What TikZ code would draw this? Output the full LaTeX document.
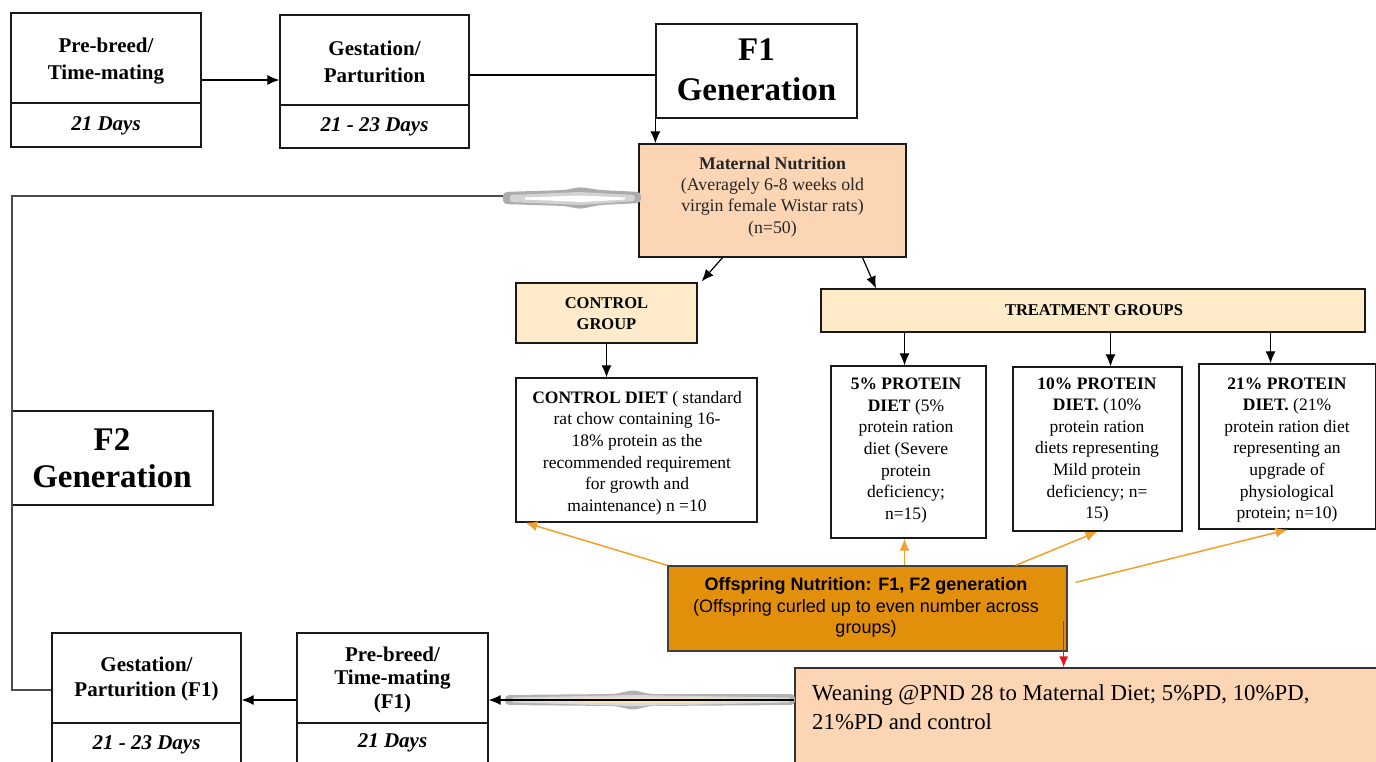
\documentclass[tikz,border=0pt]{standalone}
\usepackage{fontspec}
\setmainfont{Liberation Serif}
\setsansfont{Liberation Sans}
\usetikzlibrary{arrows.meta,calc}
\newcommand{\fsz}[2]{\fontsize{#1}{#2}\selectfont}
\definecolor{peach}{HTML}{FCD5B5}
\definecolor{beige}{HTML}{FDEBC9}
\definecolor{offor}{HTML}{E2900C}
\definecolor{oline}{HTML}{F2A02A}
\definecolor{redar}{HTML}{E8141B}
\definecolor{pale}{HTML}{F8E3BC}
\begin{document}
\begin{tikzpicture}[x=1pt,y=-1pt,
  box/.style={draw=black!90, line width=1.3pt, rectangle, inner sep=0pt},
  txt/.style={align=center, inner sep=0pt},
  flowtxt/.style={txt, font=\bfseries\fsz{21}{27}},
  daytxt/.style={txt, font=\bfseries\itshape\fsz{21}{25}},
  gentxt/.style={txt, font=\bfseries\fsz{33}{40}},
  bodytxt/.style={txt, font=\fsz{17.5}{21.6}},
  grptxt/.style={txt, font=\bfseries\fsz{16.5}{21}},
  arr/.style={-{Latex[length=12pt,width=10pt]}, line width=1.2pt},
  oarr/.style={-{Latex[length=12pt,width=10pt]}, line width=1.5pt, draw=oline, color=oline},
  divider/.style={line width=1.3pt, draw=black!90},
]
\useasboundingbox (0,0) rectangle (1376,761);
\clip (0,0) rectangle (1376,761);
\fill[white] (0,0) rectangle (1376,761);

% ---- top flow ----
\node[box, minimum width=190pt, minimum height=134pt] (pb1) at (106,80) {};
\draw[divider] (pb1.west |- 0,103) -- (pb1.east |- 0,103);
\node[flowtxt] (pb1t) at (106,61.5) {Pre-breed/\\Time-mating};
\node[daytxt] (pb1d) at (106,125.5) {21 Days};

\node[box, minimum width=189pt, minimum height=133pt] (gest) at (374.5,81.5) {};
\draw[divider] (gest.west |- 0,105) -- (gest.east |- 0,105);
\node[flowtxt] (gestt) at (374.5,61.5) {Gestation/\\Parturition};
\node[daytxt] (gestd) at (374.5,127) {21 - 23 Days};

\node[box, minimum width=201pt, minimum height=94pt] (f1) at (756.5,71) {};
\node[gentxt] (f1t) at (756.5,70) {F1\\Generation};

\node[box, fill=peach, minimum width=267pt, minimum height=113pt] (mat) at (772.5,200.5) {};
\node[txt, font=\fsz{17.8}{21.3}, text=black!85] (matt) at (772.5,197) {{\bfseries Maternal Nutrition}\\(Averagely 6-8 weeks old\\virgin female Wistar rats)\\(n=50)};

% ---- groups ----
\node[box, fill=beige, minimum width=181pt, minimum height=60pt] (cg) at (606.5,313) {};
\node[grptxt] (cgt) at (606.5,313.5) {CONTROL\\GROUP};
\node[box, fill=beige, minimum width=544pt, minimum height=43pt] (tg) at (1093,310.5) {};
\node[grptxt] (tgt) at (1094,310.5) {TREATMENT GROUPS};

\node[box, minimum width=241pt, minimum height=144pt] (cd) at (636.5,450) {};
\node[bodytxt] (cdt) at (637,453) {{\bfseries CONTROL DIET} ( standard\\rat chow containing 16-\\18\% protein as the\\recommended requirement\\for growth and\\maintenance) n =10};

\node[box, minimum width=155pt, minimum height=172pt] (p5) at (908.5,452) {};
\node[bodytxt] (p5t) at (906,450.5) {{\bfseries 5\% PROTEIN}\\{\bfseries DIET} (5\%\\protein ration\\diet (Severe\\protein\\deficiency;\\n=15)};

\node[box, minimum width=169pt, minimum height=164pt] (p10) at (1097.5,449) {};
\node[bodytxt] (p10t) at (1097,450) {{\bfseries 10\% PROTEIN}\\{\bfseries DIET.} (10\%\\protein ration\\diets representing\\Mild protein\\deficiency; n=\\15)};

\node[box, minimum width=177pt, minimum height=165pt] (p21) at (1287.5,446.5) {};
\node[bodytxt] (p21t) at (1287,450) {{\bfseries 21\% PROTEIN}\\{\bfseries DIET.} (21\%\\protein ration diet\\representing an\\upgrade of\\physiological\\protein; n=10)};

% ---- offspring / weaning ----
\node[box, fill=offor, draw=black!75, minimum width=399pt, minimum height=85pt] (off) at (867.5,608.5) {};
\node[txt, font=\sffamily\fsz{18}{21.5}] (offt) at (866,607.5) {{\bfseries Offspring Nutrition: F1, F2 generation}\\(Offspring curled up to even number across\\groups)};

\node[box, fill=peach, draw=black!80, minimum width=595pt, minimum height=112pt] (wean) at (1092.5,724) {};
\node[anchor=north west, align=left, inner sep=0pt, font=\fsz{22.8}{29}] (weant) at (812,684) {Weaning @PND 28 to Maternal Diet; 5\%PD, 10\%PD,\\21\%PD and control};

% ---- F2 ----
\node[box, minimum width=201pt, minimum height=94pt] (f2) at (112.5,458) {};
\node[gentxt, font=\bfseries\fsz{33}{37}] (f2t) at (112,458.5) {F2\\Generation};

% ---- bottom flow ----
\node[box, minimum width=189pt, minimum height=134pt] (gf1) at (146.5,700) {};
\draw[divider] (gf1.west |- 0,723) -- (gf1.east |- 0,723);
\node[txt, font=\bfseries\fsz{21}{25}] (gf1t) at (146.5,678.5) {Gestation/\\Parturition (F1)};
\node[daytxt] (gf1d) at (146.5,745) {21 - 23 Days};

\node[box, minimum width=191pt, minimum height=134pt] (pbf1) at (392.5,700) {};
\draw[divider] (pbf1.west |- 0,723) -- (pbf1.east |- 0,723);
\node[txt, font=\bfseries\fsz{21}{23.5}] (pbf1t) at (392.5,679.5) {Pre-breed/\\Time-mating\\(F1)};
\node[daytxt] (pbf1d) at (392.5,743) {21 Days};

% ---- connectors ----
\draw[arr] (pb1.east) -- (pb1.east -| gest.west);
\draw[line width=1.2pt] ([yshift=-4pt]f1.west -| gest.east) -- ([yshift=-4pt]f1.west);
\draw[arr] (f1.south west) -- (f1.south west |- mat.north);
\draw[arr] ([xshift=-50pt]mat.south) -- ([xshift=4pt,yshift=1pt]cg.north east);
\draw[arr] ([xshift=90pt]mat.south) -- ([xshift=-217pt]tg.north);
\draw[arr] (cg.south) -- (cg.south |- cd.north);
\draw[arr] ([xshift=-4pt]p5.north |- tg.south) -- ([xshift=-4pt]p5.north);
\draw[arr] ([xshift=13pt]p10.north |- tg.south) -- ([xshift=13pt]p10.north);
\draw[arr] ([xshift=-17pt]p21.north |- tg.south) -- ([xshift=-17pt]p21.north);

\draw[oarr] (off.north west) -- ([xshift=10pt]cd.south west);
\draw[oarr] ([xshift=-4pt]p5.south |- off.north) -- ([xshift=-4pt]p5.south);
\draw[oarr] ([xshift=148pt]off.north) -- (p10.south);
\draw[oarr] ([xshift=8pt,yshift=-17pt]off.north east) -- (p21.south);

\draw[-{Latex[length=11pt,width=9pt]}, draw=redar, color=redar, line width=1.3pt]
  ([xshift=-4pt,yshift=-56pt]off.north east) -- ([xshift=-4pt]off.north east |- wean.north);

% left loop
\coordinate (tl) at (12,196);
\coordinate (bl) at (12,690);
\draw[line width=1.6pt, black!70] (mat.west |- tl) -- (tl) -- (bl) -- (bl -| gf1.west);
\fill[gray!65, rounded corners=4pt] (503,192) -- (565,190) -- (580,187) -- (600,190) -- (641,192) -- (641,203) -- (600,205) -- (580,209) -- (565,206) -- (503,204) -- cycle;
\fill[gray!35, rounded corners=2pt] (510,195) -- (580,192) -- (635,195) -- (635,201) -- (580,205) -- (510,202) -- cycle;
\fill[white] (525,197.5) -- (582,195.5) -- (625,197.5) -- (625,199.5) -- (582,202) -- (525,199.5) -- cycle;

\draw[arr] (pbf1.west) -- (pbf1.west -| gf1.east);

% bottom fuzzy arrow
\fill[gray!60, rounded corners=4pt] (505,695) -- (615,694) -- (633,690) -- (650,694) -- (795,694) -- (795,705) -- (650,706) -- (633,710) -- (615,706) -- (505,705) -- cycle;
\fill[gray!30, rounded corners=2pt] (512,697.5) -- (633,695) -- (790,697.5) -- (790,702.5) -- (633,706) -- (512,702.5) -- cycle;
\fill[pale] (525,699) -- (633,697.5) -- (780,699) -- (780,701.5) -- (633,703.5) -- (525,701.5) -- cycle;
\draw[arr] (pbf1.east -| wean.west) -- (pbf1.east);
\end{tikzpicture}
\end{document}
